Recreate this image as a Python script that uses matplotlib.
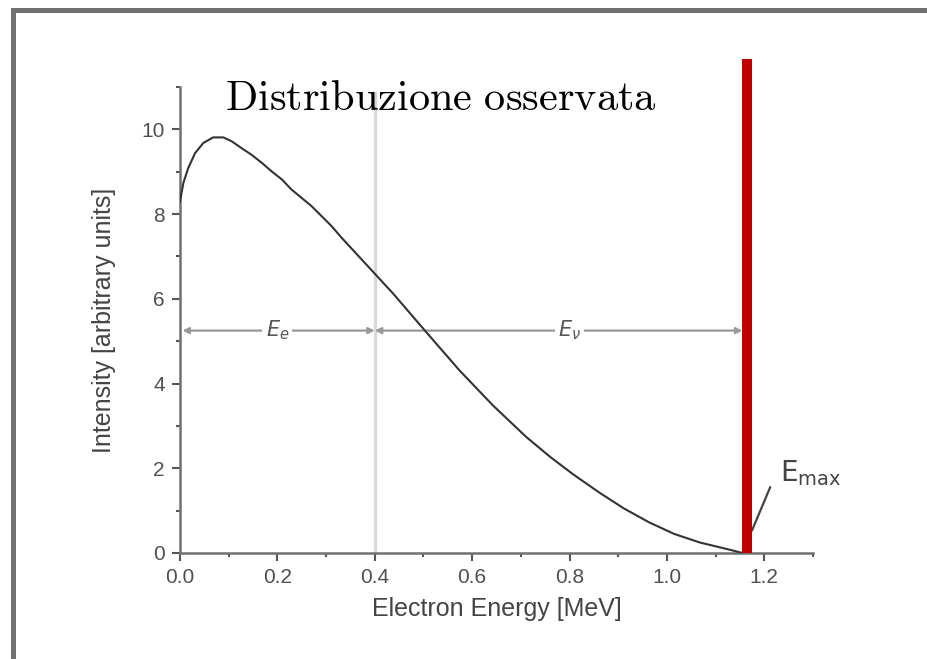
import matplotlib
matplotlib.use("Agg")
import matplotlib.pyplot as plt
from matplotlib.patches import Rectangle
from matplotlib.ticker import MultipleLocator

# ---- data ----
energy = [0.0, 0.007, 0.017, 0.031, 0.048, 0.068, 0.089, 0.106, 0.126, 0.147,
          0.168, 0.188, 0.209, 0.229, 0.250, 0.270, 0.291, 0.311, 0.332, 0.369,
          0.438, 0.506, 0.574, 0.643, 0.711, 0.759, 0.807, 0.862, 0.912, 0.964,
          1.015, 1.067, 1.135, 1.155]
intensity = [8.3, 8.74, 9.09, 9.44, 9.68, 9.81, 9.81, 9.72, 9.56, 9.40,
             9.21, 9.01, 8.82, 8.58, 8.38, 8.19, 7.95, 7.72, 7.44, 6.98,
             6.12, 5.21, 4.31, 3.48, 2.74, 2.28, 1.86, 1.42, 1.05, 0.72,
             0.45, 0.25, 0.06, 0.0]
x_ticks = [0.0, 0.2, 0.4, 0.6, 0.8, 1.0, 1.2]
x_tick_labels = ["0.0", "0.2", "0.4", "0.6", "0.8", "1.0", "1.2"]
y_ticks = [0, 2, 4, 6, 8, 10]
y_tick_labels = ["0", "2", "4", "6", "8", "10"]
e_divide = 0.4          # vertical grey line / split of the arrows
e_max = 1.165           # red line
arrow_level = 5.25
e_labels = [r"$\mathit{E}_e$", r"$\mathit{E}_\nu$"]
e_label_x = [0.2, 0.8]
title = "Distribuzione osservata"

W, H = 928, 659
fig = plt.figure(figsize=(W / 100, H / 100), dpi=100)
fig.patch.set_facecolor("white")

# slide border (grey frame top and left)
border = "#707070"
fig.add_artist(Rectangle((11 / W, 1 - 12.7 / H), 1 - 11 / W, 4.7 / H,
                         transform=fig.transFigure, color=border, lw=0))
fig.add_artist(Rectangle((11 / W, 0), 5 / W, 1 - 8 / H,
                         transform=fig.transFigure, color=border, lw=0))

ax = fig.add_axes([180 / W, 1 - 553 / H, (813 - 180) / W, (553 - 87) / H])
ax.set_xlim(0, 1.3)
ax.set_ylim(0, 11)

for s in ["top", "right"]:
    ax.spines[s].set_visible(False)
for s in ["left", "bottom"]:
    ax.spines[s].set_color("#707070")
    ax.spines[s].set_linewidth(1.8)

ax.set_xticks(x_ticks)
ax.set_xticklabels(x_tick_labels)
ax.set_yticks(y_ticks)
ax.set_yticklabels(y_tick_labels)
ax.xaxis.set_minor_locator(MultipleLocator(0.1))
ax.yaxis.set_minor_locator(MultipleLocator(1))
ax.tick_params(which="major", direction="out", length=6, width=1.5,
               color="#555555", labelsize=15, labelcolor="#505050", pad=5)
ax.tick_params(which="minor", direction="out", length=3, width=1.5,
               color="#555555")
for lab in ax.get_xticklabels() + ax.get_yticklabels():
    lab.set_family("Liberation Sans")

ax.set_xlabel("Electron Energy [MeV]", fontsize=18, color="#444444",
              family="Liberation Sans", labelpad=7)
ax.set_ylabel("Intensity [arbitrary units]", fontsize=18, color="#444444",
              family="Liberation Sans", labelpad=18)

# grey vertical line at the division
ax.plot([e_divide, e_divide], [0, 10.85], color="#d9d9d9", lw=2.4, zorder=1)

# horizontal arrows
arrow_kw = dict(arrowstyle="<|-|>", color="#999999", lw=1.6,
                mutation_scale=9, shrinkA=0, shrinkB=0)
ax.annotate("", xy=(0.005, arrow_level), xytext=(e_divide, arrow_level),
            arrowprops=arrow_kw, zorder=2)
ax.annotate("", xy=(e_divide, arrow_level), xytext=(e_max - 0.01, arrow_level),
            arrowprops=arrow_kw, zorder=2)
for lx, lt in zip(e_label_x, e_labels):
    ax.text(lx, arrow_level, lt, fontsize=15, color="#555555",
            ha="center", va="center", zorder=3,
            bbox=dict(boxstyle="square,pad=0.15", fc="white", ec="none"))

# spectrum curve
ax.plot(energy, intensity, color="#333333", lw=1.5, zorder=4)

# red line for E_max
ax.plot([e_max, e_max], [0, 11.67], color="#c00000", lw=7.2,
        solid_capstyle="butt", clip_on=False, zorder=6)

# E_max label with pointer
ax.plot([1.175, 1.212], [0.54, 1.55], color="#444444", lw=1.6, zorder=5)
ax.text(1.232, 1.7, r"$\mathrm{E}_{\mathrm{max}}$", fontsize=20,
        color="#444444", ha="left", va="baseline")

# title
fig.text(225 / W, 1 - 110 / H, r"$\mathrm{Distribuzione\ osservata}$",
         fontsize=30.5, color="black", ha="left", va="baseline",
         math_fontfamily="cm")

fig.savefig("out.png", dpi=100, facecolor="white")
